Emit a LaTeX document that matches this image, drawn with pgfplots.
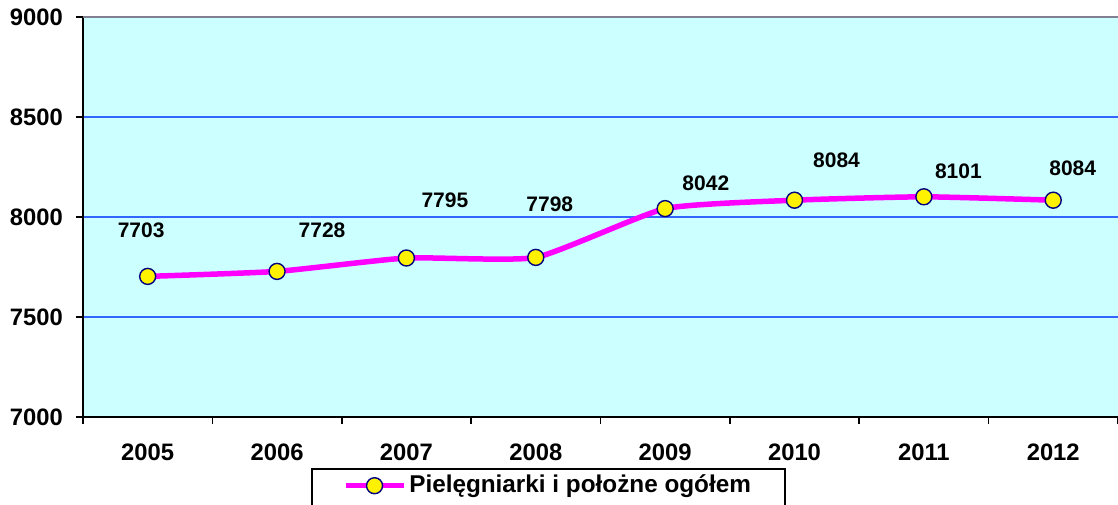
\documentclass[border=0pt]{standalone}
\usepackage{pgfplots}
\pgfplotsset{compat=1.18}
\usepackage{pgfplotstable}
\usepackage{fontspec}
\setmainfont{Liberation Sans}
\definecolor{bgc}{HTML}{CCFFFF}
\definecolor{gridc}{HTML}{3366FF}
\definecolor{mag}{HTML}{FF00FF}
\definecolor{navyc}{HTML}{000080}
\definecolor{topc}{HTML}{808090}

\pgfplotstableread{
x y dx dy
0 7703 -6.5 45.9
1 7728 45 40.9
2 7795 38.5 57.5
3 7798 14 53.6
4 8042 40.7 25.3
5 8084 42 39.7
6 8101 34.5 25.8
7 8084 19.5 32
}\datatab

\begin{document}
\begin{tikzpicture}
\begin{axis}[
  scale only axis, width=1035pt, height=400pt,
  xmin=-0.5, xmax=7.5, ymin=7000, ymax=9000,
  axis background/.style={fill=bgc},
  axis lines=left,
  axis line style={-, black, line width=1.6pt},
  /pgf/number format/assume math mode=true,
  /pgf/number format/1000 sep={},
  ytick={7000,7500,8000,8500},
  extra y ticks={9000},
  extra y tick style={grid style={topc, line width=1.6pt}},
  ymajorgrids,
  grid style={gridc, line width=1.3pt},
  tick align=outside,
  major tick length=7pt,
  tick style={black, line width=1.6pt},
  xtick={-0.5,0.5,...,7.5},
  xticklabels={},
  extra x ticks={0,1,2,3,4,5,6,7},
  extra x tick labels={2005,2006,2007,2008,2009,2010,2011,2012},
  extra x tick style={major tick length=0pt, xticklabel style={inner sep=0pt, anchor=north, yshift=-27pt}},
  yticklabel style={inner sep=0pt, anchor=east, xshift=-13pt},
  tick label style={font=\fontsize{23.8}{28}\selectfont\bfseries},
  legend style={at={(rel axis cs:0.2203,-0.1275)}, anchor=north west,
    draw=black, line width=1.6pt, inner xsep=31pt, inner ysep=3pt,
    font=\fontsize{24.3}{28}\selectfont\bfseries,
    nodes={inner sep=3pt, text depth=22pt}},
  legend image code/.code={
    \draw[#1, mark repeat=2, mark phase=2, yshift=9pt] plot coordinates {(0pt,0pt) (29pt,0pt) (58pt,0pt)};
  },
]
\addplot[mag, line width=5.5pt, smooth, tension=0.3,
  mark=*, mark size=8pt, mark options={fill=yellow, draw=navyc, line width=1.4pt},
  point meta=explicit symbolic,
  nodes near coords,
  visualization depends on={\thisrow{dx}\as\dx},
  visualization depends on={\thisrow{dy}\as\dy},
  every node near coord/.append style={anchor=center, inner sep=0pt, black,
    xshift=\dx pt, yshift=\dy pt, font=\fontsize{21}{25}\selectfont\bfseries},
] table[x=x, y=y, meta=y] {\datatab};
\addlegendentry{Pielęgniarki i położne ogółem}
\coordinate (bl) at (rel axis cs:0,0);
\end{axis}
\pgfresetboundingbox
\path[use as bounding box] (bl) ++(-83pt,-87pt) rectangle ++(1118pt,504pt);
\end{tikzpicture}
\end{document}
